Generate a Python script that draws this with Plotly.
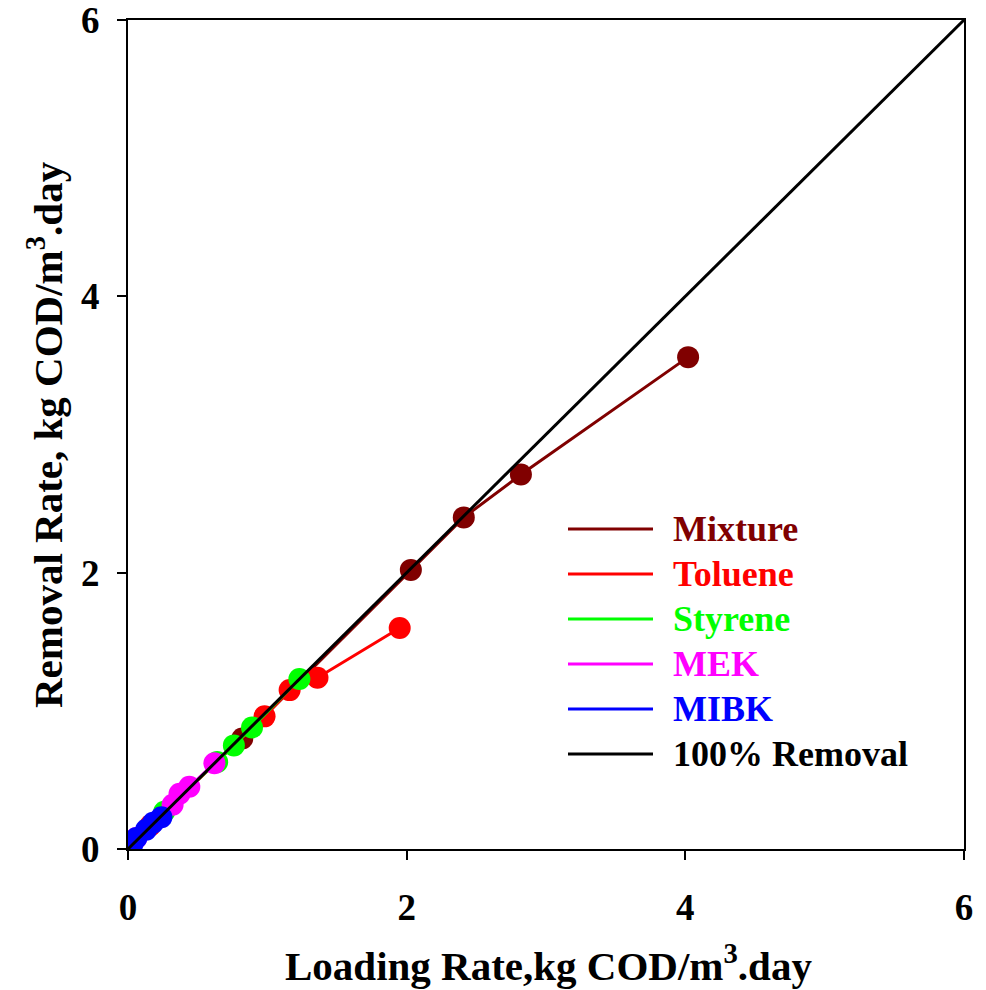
import plotly.graph_objects as go

# ---- data ----
mixture_x = [0.82, 2.03, 2.41, 2.82, 4.02]
mixture_y = [0.80, 2.02, 2.40, 2.71, 3.56]

toluene_x = [0.16, 0.98, 1.16, 1.36, 1.95]
toluene_y = [0.17, 0.96, 1.15, 1.24, 1.60]

styrene_x = [0.26, 0.64, 0.76, 0.89, 1.23]
styrene_y = [0.27, 0.63, 0.75, 0.88, 1.23]

mek_x = [0.06, 0.32, 0.37, 0.44, 0.62]
mek_y = [0.08, 0.32, 0.40, 0.45, 0.62]

mibk_x = [0.03, 0.06, 0.13, 0.18, 0.24]
mibk_y = [0.03, 0.08, 0.14, 0.19, 0.23]

ideal_x = [0, 6]
ideal_y = [0, 6]

tick_values = [0, 2, 4, 6]
tick_labels = ["0", "2", "4", "6"]

names = ["Mixture", "Toluene", "Styrene", "MEK", "MIBK", "100% Removal"]
colors = ["#800000", "#FF0000", "#00FF00", "#FF00FF", "#0000FF", "#000000"]

FONT = "Liberation Serif, Times New Roman, serif"

fig = go.Figure()
series = [(mixture_x, mixture_y), (toluene_x, toluene_y), (styrene_x, styrene_y),
          (mek_x, mek_y), (mibk_x, mibk_y)]
for (xs, ys), nm, c in zip(series, names[:5], colors[:5]):
    fig.add_trace(go.Scatter(x=xs, y=ys, mode="lines+markers", name=nm,
                             line=dict(color=c, width=3),
                             marker=dict(color=c, size=22),
                             showlegend=False))
fig.add_trace(go.Scatter(x=ideal_x, y=ideal_y, mode="lines", name=names[5],
                         line=dict(color=colors[5], width=3), showlegend=False))

# ---- layout geometry ----
L, R, T, B = 128, 22, 20, 141
W, H = 986, 990
pw, ph = W - L - R, H - T - B
def px(xp):
    return (xp - L) / pw
def py(yp):
    return (H - B - yp) / ph

# ---- manual legend (long line samples with coloured labels) ----
row0, step = 529, 45
for i, (nm, c) in enumerate(zip(names, colors)):
    yy = py(row0 + i * step)
    fig.add_shape(type="line", xref="paper", yref="paper",
                  x0=px(568), x1=px(653), y0=yy, y1=yy,
                  line=dict(color=c, width=3))
    fig.add_annotation(xref="paper", yref="paper", x=px(671), y=yy,
                       text=nm, showarrow=False, xanchor="left", yanchor="middle",
                       font=dict(family=FONT, size=36, color=c, weight="bold"))

# ---- axis titles ----
title_font = dict(family=FONT, size=41, color="black", weight="bold")
fig.add_annotation(xref="paper", yref="paper", x=px(548), y=py(963),
                   text="Loading Rate,kg COD/m<sup>3</sup>.day", showarrow=False,
                   xanchor="center", yanchor="middle", font=title_font)
fig.add_annotation(xref="paper", yref="paper", x=px(45), y=py(435),
                   text="Removal Rate, kg COD/m<sup>3</sup>.day", showarrow=False,
                   textangle=-90, xanchor="center", yanchor="middle", font=title_font)

axis_common = dict(range=[0, 6], tickmode="array", tickvals=tick_values, ticktext=tick_labels,
                   showgrid=False, zeroline=False,
                   showline=True, linecolor="black", linewidth=2, mirror=True,
                   ticks="outside", ticklen=9, tickwidth=1.5, tickcolor="black",
                   automargin=False, ticklabeloverflow="allow",
                   tickfont=dict(family=FONT, size=37, color="black", weight="bold"))

fig.update_layout(
    width=W, height=H,
    margin=dict(l=L, r=R, t=T, b=B),
    paper_bgcolor="white", plot_bgcolor="white",
    showlegend=False,
    xaxis=dict(**axis_common, ticklabelstandoff=16),
    yaxis=dict(**axis_common, ticklabelstandoff=10),
)

fig.write_html("out.html")
